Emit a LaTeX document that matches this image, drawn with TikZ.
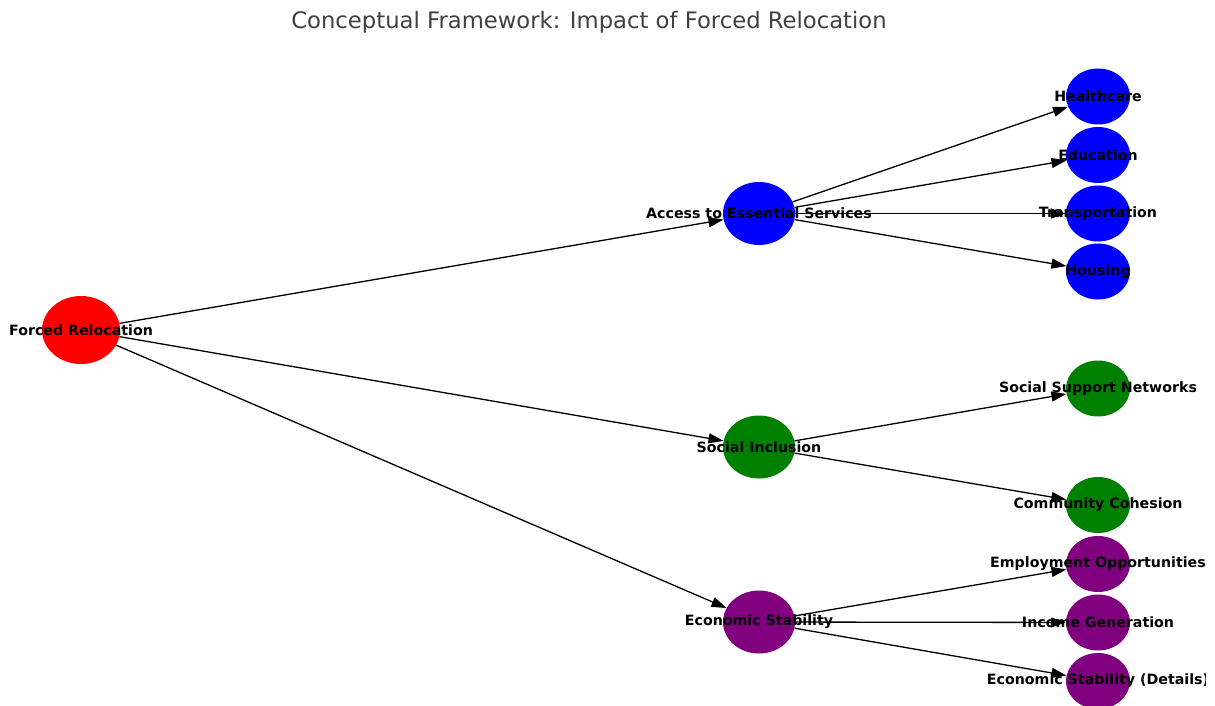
\documentclass[tikz,border=0pt]{standalone}
\usepackage{fontspec}
\setmainfont{DejaVu Sans}
\usetikzlibrary{arrows.meta,shapes.geometric}
\definecolor{titlegray}{RGB}{64,64,64}
\definecolor{nodepurple}{RGB}{128,0,128}
\definecolor{nodegreen}{RGB}{0,128,0}
\begin{document}
\begin{tikzpicture}[x=1pt,y=-1pt,
  rootnode/.style={ellipse,fill=red,draw=none,minimum width=78pt,minimum height=68pt,inner sep=0pt},
  midnode/.style={ellipse,draw=none,minimum width=72pt,minimum height=63pt,inner sep=0pt},
  leafnode/.style={ellipse,draw=none,minimum width=64pt,minimum height=56pt,inner sep=0pt},
  lbl/.style={font=\fontsize{14.2}{16}\selectfont\bfseries,text=black,inner sep=0pt},
  link/.style={draw=black,line width=1.3pt,-{Triangle[length=15pt,width=10pt]}}]
\useasboundingbox (0,0) rectangle (1215,706);
\clip (0,0) rectangle (1205,706);

% title
\node[font=\fontsize{22.7}{26}\selectfont,text=titlegray,inner sep=0pt] (title) at (589,22) {Conceptual Framework: Impact of Forced Relocation};

% nodes
\node[rootnode] (fr) at (81,330) {};
\node[midnode,fill=blue] (acc) at (759,213.5) {};
\node[midnode,fill=nodegreen] (soc) at (759,447) {};
\node[midnode,fill=nodepurple] (eco) at (759,622) {};

\node[leafnode,fill=blue] (hc) at (1098,96.5) {};
\node[leafnode,fill=blue] (edu) at (1098,155) {};
\node[leafnode,fill=blue] (tr) at (1098,213.5) {};
\node[leafnode,fill=blue] (ho) at (1098,271.5) {};
\node[leafnode,fill=nodegreen] (ssn) at (1098,388.5) {};
\node[leafnode,fill=nodegreen] (cc) at (1098,505) {};
\node[leafnode,fill=nodepurple] (emp) at (1098,564) {};
\node[leafnode,fill=nodepurple] (inc) at (1098,622.5) {};
\node[leafnode,fill=nodepurple] (ecd) at (1098,681) {};

% connectors
\draw[link] (fr) -- (acc);
\draw[link] (fr) -- (soc);
\draw[link] (fr) -- (eco);
\draw[link] (acc) -- (hc);
\draw[link] (acc) -- (edu);
\draw[link] (acc) -- (tr);
\draw[link] (acc) -- (ho);
\draw[link] (soc) -- (ssn);
\draw[link] (soc) -- (cc);
\draw[link] (eco) -- (emp);
\draw[link] (eco) -- (inc);
\draw[link] (eco) -- (ecd);

% labels
\node[lbl] (frl) at (fr) {Forced Relocation};
\node[lbl] (accl) at (acc) {Access to Essential Services};
\node[lbl] (socl) at (soc) {Social Inclusion};
\node[lbl] (ecol) at (eco) {Economic Stability};
\node[lbl] (hcl) at (hc) {Healthcare};
\node[lbl] (edul) at (edu) {Education};
\node[lbl] (trl) at (tr) {Transportation};
\node[lbl] (hol) at (ho) {Housing};
\node[lbl] (ssnl) at (ssn) {Social Support Networks};
\node[lbl] (ccl) at (cc) {Community Cohesion};
\node[lbl] (empl) at (emp) {Employment Opportunities};
\node[lbl] (incl) at (inc) {Income Generation};
\node[lbl] (ecdl) at (ecd) {Economic Stability (Details)};
\end{tikzpicture}
\end{document}
